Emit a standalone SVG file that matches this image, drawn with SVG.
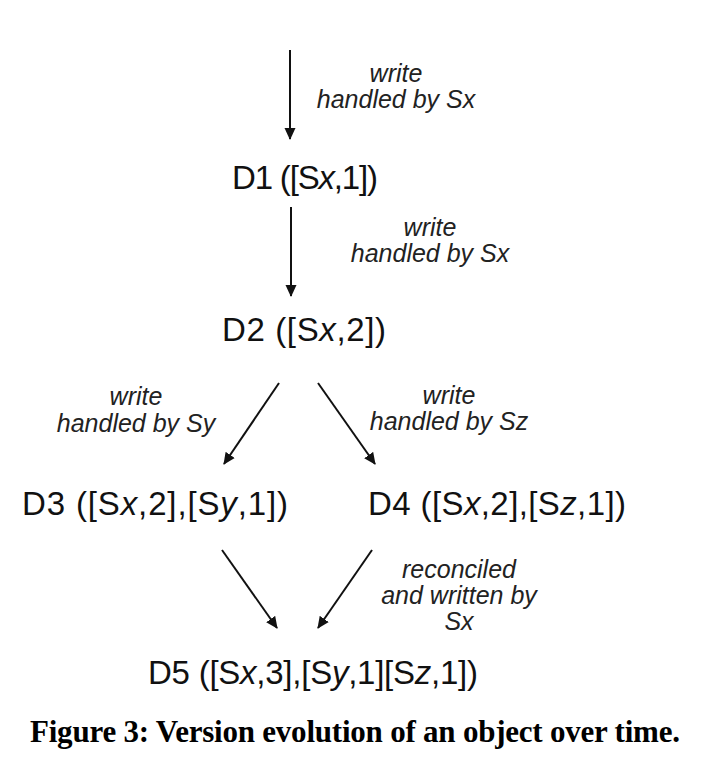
<svg xmlns="http://www.w3.org/2000/svg" width="720" height="780" viewBox="0 0 720 780">
<style>
.node{font-family:"Liberation Sans",Arial,sans-serif;font-size:33px;fill:#111;}
.it{font-style:italic;}
.lbl{font-family:"Liberation Sans",Arial,sans-serif;font-size:25px;font-style:italic;fill:#222;text-anchor:middle;}
.edge{stroke:#111;stroke-width:2;fill:none;marker-end:url(#ah);}
.cap{font-family:"Liberation Serif","Times New Roman",serif;font-weight:bold;font-size:31px;fill:#000;}
</style>
<defs>
<marker id="ah" viewBox="0 0 12 12" refX="11" refY="6" markerWidth="12" markerHeight="12" markerUnits="userSpaceOnUse" orient="auto">
<path d="M0,0.5 L12,6 L0,11.5 Z" fill="#111"/>
</marker>
</defs>
<rect width="720" height="780" fill="#fff"/>
<g id="connectors">
<line class="edge" x1="290" y1="50" x2="290" y2="139"/>
<line class="edge" x1="291" y1="207" x2="291" y2="296"/>
<line class="edge" x1="279" y1="383" x2="224" y2="464"/>
<line class="edge" x1="318" y1="383" x2="375" y2="464"/>
<line class="edge" x1="222" y1="550" x2="277" y2="628"/>
<line class="edge" x1="372" y1="550" x2="318" y2="628"/>
<text class="lbl" x="396" y="82">write</text>
<text class="lbl" x="396" y="108">handled by Sx</text>
<text class="lbl" x="430" y="236">write</text>
<text class="lbl" x="430" y="262">handled by Sx</text>
<text class="lbl" x="136" y="405">write</text>
<text class="lbl" x="136" y="432">handled by Sy</text>
<text class="lbl" x="449" y="404">write</text>
<text class="lbl" x="449" y="430">handled by Sz</text>
<text class="lbl" x="459" y="578">reconciled</text>
<text class="lbl" x="459" y="604">and written by</text>
<text class="lbl" x="459" y="630">Sx</text>
</g>
<g id="D1"><text class="node" x="232" y="189" textLength="146">D1 ([S<tspan class="it">x</tspan>,1])</text></g>
<g id="D2"><text class="node" x="222" y="341" textLength="164">D2 ([S<tspan class="it">x</tspan>,2])</text></g>
<g id="D3"><text class="node" x="22" y="515" textLength="266">D3 ([S<tspan class="it">x</tspan>,2],[S<tspan class="it">y</tspan>,1])</text></g>
<g id="D4"><text class="node" x="368" y="515" textLength="258">D4 ([S<tspan class="it">x</tspan>,2],[S<tspan class="it">z</tspan>,1])</text></g>
<g id="D5"><text class="node" x="148" y="684" textLength="330">D5 ([S<tspan class="it">x</tspan>,3],[S<tspan class="it">y</tspan>,1][S<tspan class="it">z</tspan>,1])</text></g>
<text class="cap" x="30" y="742" textLength="650">Figure 3: Version evolution of an object over time.</text>
</svg>
